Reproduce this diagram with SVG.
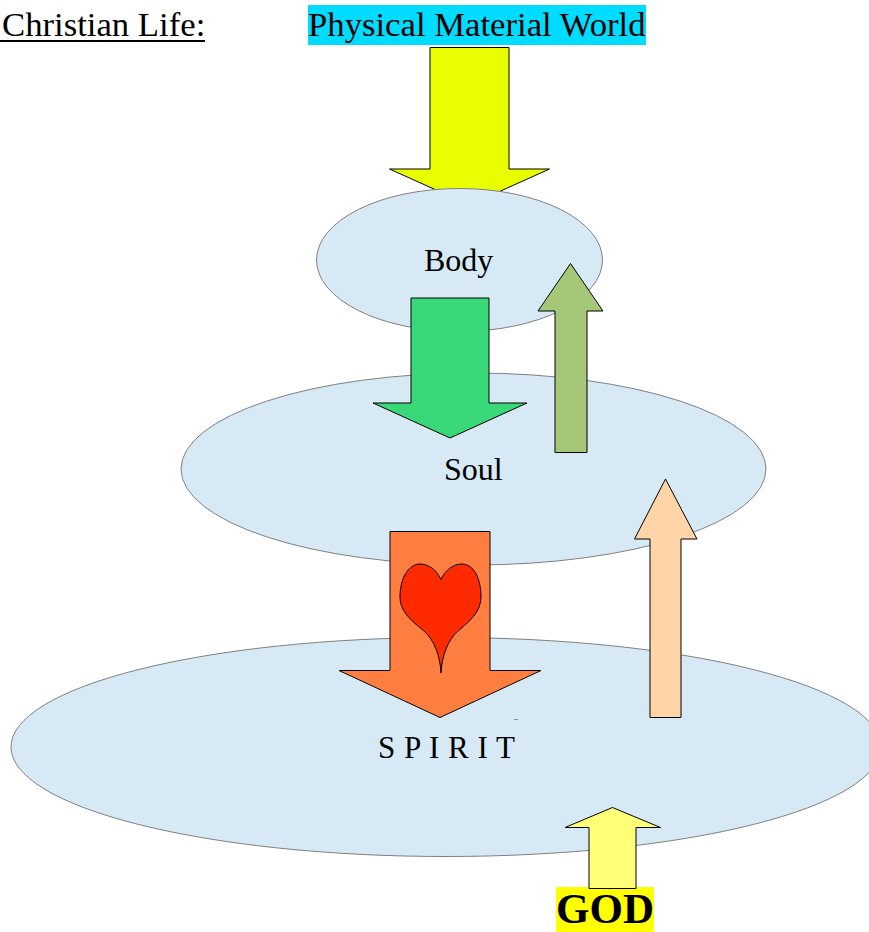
<svg xmlns="http://www.w3.org/2000/svg" width="869" height="932" viewBox="0 0 869 932">
<style>
text{font-family:"Liberation Serif","Times New Roman",serif;fill:#000}
.big{font-size:34.700px}
.lbl{font-size:32px}
.oval{fill:#d7e9f5;stroke:#808080;stroke-width:1}
.arrow{stroke:#000;stroke-width:1}
</style>
<rect width="869" height="932" fill="#fff"/>
<g id="bg-physical"><rect x="308" y="5" width="338" height="40" fill="#00dcff"/></g>
<g id="bg-god"><rect x="556" y="887" width="98" height="45" fill="#ffff00"/></g>
<g id="title"><text class="big" x="2" y="36">Christian Life:</text><rect x="0" y="40" width="205" height="2" fill="#000"/></g>
<g id="physical"><text class="big" x="308" y="36">Physical Material World</text></g>
<g id="connectors-back">
<path class="arrow" fill="#e9ff00" d="M430 47.500H509V169H549.500L469.500 205 389.500 169H430Z"/>
</g>
<g id="spirit"><ellipse class="oval" cx="446" cy="747" rx="435" ry="109.500"/><text class="lbl" x="378" y="758" textLength="137" lengthAdjust="spacing" style="font-size:31px">S P I R I T</text><rect x="514" y="719" width="4" height="1" fill="#888"/></g>
<g id="soul"><ellipse class="oval" cx="473.500" cy="469" rx="292.500" ry="96"/><text class="lbl" x="444" y="480">Soul</text></g>
<g id="body"><ellipse class="oval" cx="459.500" cy="260" rx="143" ry="71.500"/><text class="lbl" x="424" y="271">Body</text></g>
<g id="connectors">
<path class="arrow" fill="#38d878" d="M411 298H489V403H527L450 438 373 403H411Z"/>
<path class="arrow" fill="#a5c878" d="M555 452.500V311H538L570.500 263.500 603 311H587V452.500Z"/>
<path class="arrow" fill="#ff7e40" d="M390 531.500H490V670.500H541L440 717.500 339 670.500H390Z"/>
<path class="arrow" fill="#ffd5a8" d="M650 717.500V539H634.500L665.500 479 697 539H681V717.500Z"/>
<path class="arrow" fill="#ffff78" d="M589 888.500V827.500H565L612.500 807.500 660.500 827.500H636V888.500Z"/>
</g>
<g id="heart"><path fill="#ff2a00" stroke="#000" stroke-width="1" d="M441 579.500C446 569 454 564 462 564C474 564 481 579 481 597C481 612 469 622 458 631C448 640 442 655 441 673C440 655 434 640 424 631C413 622 400 612 400 597C400 579 408 564 420 564C428 564 436 569 441 579.500Z"/></g>
<g id="god"><text x="556" y="922.500" font-size="43" font-weight="bold">GOD</text></g>
</svg>
